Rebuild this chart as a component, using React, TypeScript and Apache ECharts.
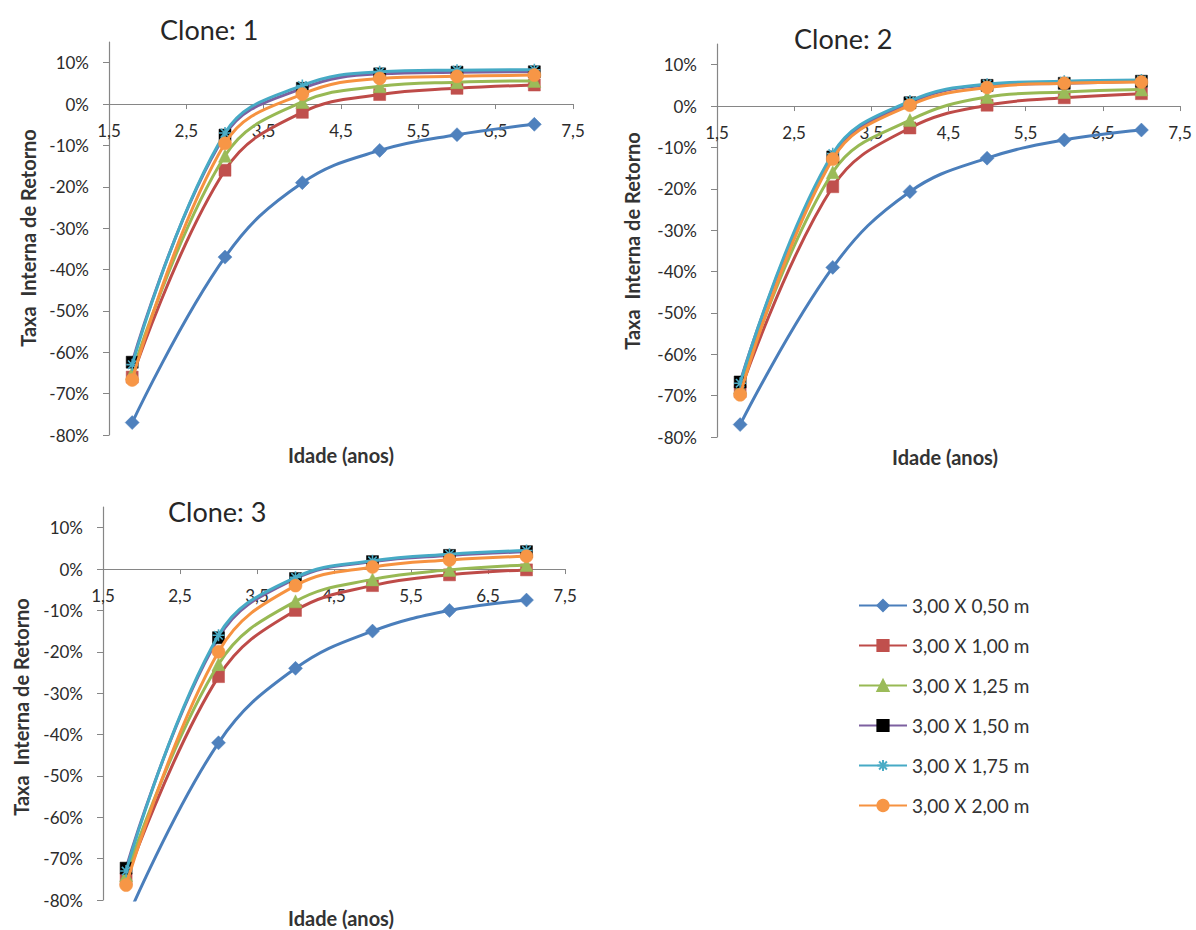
import React, { useEffect, useRef } from 'react';
import * as echarts from 'echarts';

// ---- data ----
const ages = [1.8, 3, 4, 5, 6, 7];
const seriesNames = ['3,00 X 0,50 m', '3,00 X 1,00 m', '3,00 X 1,25 m', '3,00 X 1,50 m', '3,00 X 1,75 m', '3,00 X 2,00 m'];

const clone1_050 = [-77, -37, -19, -11.2, -7.4, -4.9];
const clone1_100 = [-66, -16, -2, 2.3, 3.8, 4.6];
const clone1_125 = [-65, -12.5, 0.5, 4.3, 5.3, 5.6];
const clone1_150 = [-62.4, -7.5, 3.8, 7.3, 7.7, 7.8];
const clone1_175 = [-63, -7, 4.5, 7.8, 8.2, 8.3];
const clone1_200 = [-66.7, -9.5, 2.4, 6.2, 6.7, 7];

const clone2_050 = [-77, -39, -20.7, -12.6, -8.2, -5.8];
const clone2_100 = [-69, -19.5, -5.3, 0.2, 2, 3];
const clone2_125 = [-68, -16, -3.4, 2.2, 3.4, 4];
const clone2_150 = [-66.7, -12.3, 0.8, 5, 5.5, 6];
const clone2_175 = [-67, -11.5, 1.2, 5.3, 6, 6.3];
const clone2_200 = [-69.8, -12.8, 0.2, 4.5, 5.5, 5.8];

const clone3_050 = [-85, -42, -24, -15, -10, -7.5];
const clone3_100 = [-75, -26, -10, -4, -1.4, -0.2];
const clone3_125 = [-74, -23, -7.8, -2.5, -0.2, 1];
const clone3_150 = [-72.3, -16.6, -2.3, 1.8, 3.3, 4.2];
const clone3_175 = [-73, -16, -2, 2, 3.6, 4.5];
const clone3_200 = [-76.4, -20, -4, 0.5, 2.2, 3.1];

const xTicks = [1.5, 2.5, 3.5, 4.5, 5.5, 6.5, 7.5];
const yTicks = [-80, -70, -60, -50, -40, -30, -20, -10, 0, 10];
const cloneTitles = ['Clone: 1', 'Clone: 2', 'Clone: 3'];
const xAxisTitle = 'Idade (anos)';
const yAxisTitle = 'Taxa  Interna de Retorno';

const clones = [
  [clone1_050, clone1_100, clone1_125, clone1_150, clone1_175, clone1_200],
  [clone2_050, clone2_100, clone2_125, clone2_150, clone2_175, clone2_200],
  [clone3_050, clone3_100, clone3_125, clone3_150, clone3_175, clone3_200],
];

// ---- styles ----
const FONT = 'Lato, "Open Sans", "DejaVu Sans", sans-serif';
const ASTERISK = 'path://M5 0 L5 10 M0 5 L10 5 M1.5 1.5 L8.5 8.5 M8.5 1.5 L1.5 8.5';
const seriesStyles = [
  { line: '#4A7EBB', fill: '#4F81BD', symbol: 'diamond', size: 14 },
  { line: '#BE4B48', fill: '#C0504D', symbol: 'rect', size: 12 },
  { line: '#98B954', fill: '#9BBB59', symbol: 'triangle', size: 13 },
  { line: '#7D60A0', fill: '#000000', symbol: 'rect', size: 12 },
  { line: '#46AAC5', fill: '#4BACC6', symbol: ASTERISK, size: 12, stroke: true },
  { line: '#F69240', fill: '#F79646', symbol: 'circle', size: 13 },
];

const Y_MIN = -80;
const Y_MAX = 15;
const grids = [
  { left: 109, top: 42, width: 464, height: 393 },
  { left: 717, top: 44, width: 463, height: 393 },
  { left: 103, top: 507, width: 462, height: 393 },
];

const titlePos = [
  { x: 160, y: 29 },
  { x: 794, y: 38 },
  { x: 168, y: 511 },
];
const yTitlePos = [
  { x: 28, y: 238 },
  { x: 632, y: 241 },
  { x: 21, y: 707 },
];
const xTitlePos = [
  { x: 341, y: 455 },
  { x: 945, y: 457 },
  { x: 341, y: 918 },
];

export default function App() {
  const ref = useRef<HTMLDivElement>(null);

  useEffect(() => {
    if (!ref.current) return;
    const chart = echarts.init(ref.current, undefined, { renderer: 'svg' });

    const xAxes = grids.map((g, i) => ({
      type: 'value',
      gridIndex: i,
      position: 'bottom',
      // place the axis (line, ticks, labels) at y = 0 of the value axis
      offset: -(g.height * (0 - Y_MIN)) / (Y_MAX - Y_MIN),
      min: 1.5,
      max: 7.5,
      splitLine: { show: false },
      axisLine: { onZero: false, lineStyle: { color: '#868686', width: 1.2 } },
      axisTick: { show: true, length: 5, customValues: xTicks, lineStyle: { color: '#868686' } },
      axisLabel: {
        customValues: xTicks,
        margin: 18,
        fontSize: 17,
        fontFamily: FONT,
        color: '#2b2b2b',
        formatter: (v: number) => v.toFixed(1).replace('.', ','),
      },
    }));

    const yAxes = grids.map((_, i) => ({
      type: 'value',
      gridIndex: i,
      min: Y_MIN,
      max: Y_MAX,
      interval: 10,
      splitLine: { show: false },
      axisLine: { show: true, lineStyle: { color: '#868686', width: 1.2 } },
      axisTick: { show: true, length: 6, customValues: yTicks, lineStyle: { color: '#868686' } },
      axisLabel: {
        customValues: yTicks,
        margin: 20,
        fontSize: 17,
        fontFamily: FONT,
        color: '#2b2b2b',
        formatter: (v: number) => `${v}%`,
      },
    }));

    const series: any[] = [];
    clones.forEach((cl, gi) => {
      cl.forEach((vals, si) => {
        const st = seriesStyles[si];
        series.push({
          type: 'line',
          name: seriesNames[si],
          xAxisIndex: gi,
          yAxisIndex: gi,
          data: ages.map((a, k) => [a, vals[k]]),
          smooth: 0.4,
          clip: true,
          symbol: st.symbol,
          symbolSize: st.size,
          showAllSymbol: true,
          lineStyle: { color: st.line, width: 3 },
          itemStyle: st.stroke
            ? { color: st.fill, borderColor: st.fill, borderWidth: 1.6 }
            : { color: st.fill, borderColor: st.fill, borderWidth: 0.5 },
          z: 2 + si,
        });
      });
    });

    const graphic: any[] = [];
    cloneTitles.forEach((t, i) => {
      graphic.push({
        type: 'text',
        x: titlePos[i].x,
        y: titlePos[i].y,
        style: { text: t, font: `27px ${FONT}`, fill: '#262626', align: 'left', verticalAlign: 'middle' },
      });
      graphic.push({
        type: 'text',
        x: yTitlePos[i].x,
        y: yTitlePos[i].y,
        rotation: Math.PI / 2,
        style: { text: yAxisTitle, font: `bold 20px ${FONT}`, fill: '#333333', align: 'center', verticalAlign: 'middle' },
      });
      graphic.push({
        type: 'text',
        x: xTitlePos[i].x,
        y: xTitlePos[i].y,
        style: { text: xAxisTitle, font: `bold 20px ${FONT}`, fill: '#333333', align: 'center', verticalAlign: 'middle' },
      });
    });

    chart.setOption({
      animation: false,
      backgroundColor: '#ffffff',
      grid: grids.map((g) => ({ ...g, containLabel: false })),
      xAxis: xAxes,
      yAxis: yAxes,
      legend: {
        data: seriesNames,
        orient: 'vertical',
        left: 853,
        top: 591,
        itemWidth: 48,
        itemHeight: 14,
        itemGap: 21,
        textStyle: { fontSize: 19, color: '#333333', fontFamily: FONT },
      },
      graphic,
      series,
    });

    return () => chart.dispose();
  }, []);

  return <div ref={ref} style={{ position: 'absolute', left: 0, top: 0, width: 1196, height: 930 }} />;
}
